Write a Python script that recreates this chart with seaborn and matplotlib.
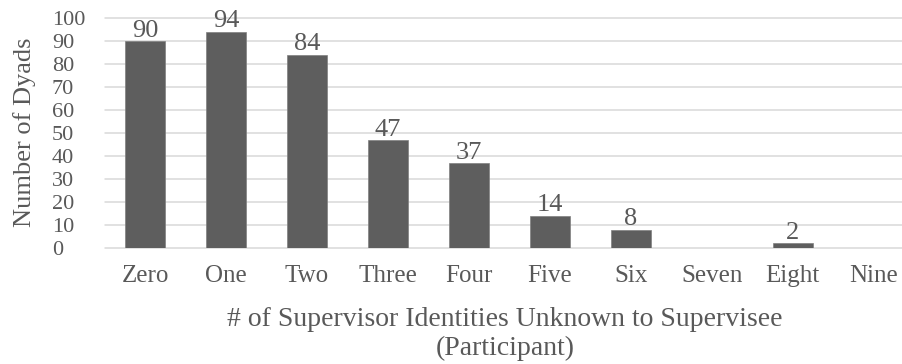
import numpy as np
import pandas as pd
import seaborn as sns
import matplotlib.pyplot as plt

# Number of dyads by how many supervisor identities the supervisee did not know
categories = ["Zero", "One", "Two", "Three", "Four", "Five", "Six", "Seven", "Eight", "Nine"]
counts = [90, 94, 84, 47, 37, 14, 8, 0, 2, 0]
y_ticks = list(range(0, 101, 10))

x_title = "# of Supervisor Identities Unknown to Supervisee"
x_title_2 = "(Participant)"
y_title = "Number of Dyads"

TEXT = "#595959"
BAR = "#5e5e5e"
GRID = "#d9d9d9"

sns.set_theme(style="white")
plt.rcParams["font.family"] = ["Liberation Serif", "DejaVu Serif"]

W, H = 902, 364
fig = plt.figure(figsize=(W / 100, H / 100), dpi=100)
ax = fig.add_axes([104.6 / W, 1 - 248 / H, 809.6 / W, 230 / H])

df = pd.DataFrame({"identities": categories, "dyads": counts})
sns.barplot(data=df, x="identities", y="dyads", color=BAR, saturation=1,
            width=0.5, edgecolor="#808080", linewidth=0.5, ax=ax)

ax.set_xlim(-0.5, len(categories) - 0.5)
ax.set_ylim(0, 100)
ax.set_yticks(y_ticks)
ax.set_yticklabels([str(t) for t in y_ticks])
ax.grid(axis="y", color=GRID, linewidth=1.1)
ax.grid(axis="x", visible=False)
ax.set_axisbelow(True)
for gl in ax.get_ygridlines():
    gl.set_clip_on(False)
sns.despine(ax=ax, left=True, bottom=True, top=True, right=True)

ax.tick_params(axis="both", length=0, colors=TEXT)
ax.tick_params(axis="x", labelsize=18, pad=12)
ax.tick_params(axis="y", labelsize=16, pad=38)
for lbl in ax.get_yticklabels():
    lbl.set_horizontalalignment("left")
ax.set_xlabel("")
ax.set_ylabel("")

# value labels on the non-empty bars
ax.bar_label(ax.containers[0],
             labels=[str(v) if v else "" for v in counts],
             padding=-0.5, fontsize=19, color=TEXT)

fig.text(25 / W, 1 - 132 / H, y_title, rotation=90, ha="center", va="center",
         fontsize=19, color=TEXT)
fig.text(505 / W, 1 - 326 / H, x_title, ha="center", va="baseline",
         fontsize=20, color=TEXT)
fig.text(505 / W, 1 - 355 / H, x_title_2, ha="center", va="baseline",
         fontsize=20, color=TEXT)

fig.savefig("out.png", dpi=100)
